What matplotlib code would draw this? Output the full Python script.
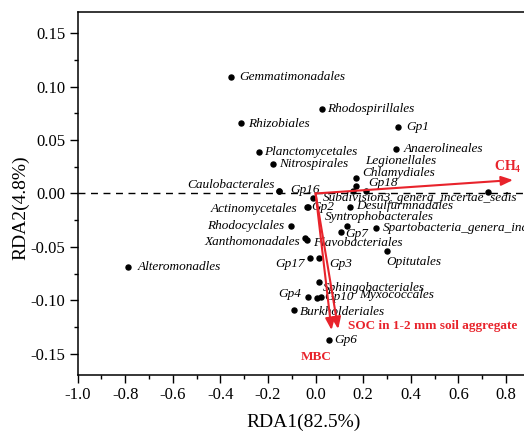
import matplotlib
matplotlib.use("Agg")
import matplotlib.pyplot as plt

plt.rcParams["font.family"] = ["Liberation Serif", "DejaVu Serif"]
plt.rcParams["axes.unicode_minus"] = False
plt.rcParams["mathtext.fontset"] = "custom"
plt.rcParams["mathtext.bf"] = "Liberation Serif:bold"
plt.rcParams["mathtext.rm"] = "Liberation Serif"

# species scores (RDA1, RDA2)
taxa = [
    "Gemmatimonadales", "Rhizobiales", "Planctomycetales", "Nitrospirales",
    "Rhodospirillales", "Gp1", "Anaerolineales", "Legionellales",
    "Chlamydiales", "Gp18", "", "", "Caulobacterales", "Gp16",
    "Subdivision3_genera_incertae_sedis", "Actinomycetales", "Gp2",
    "Desulfurmnadales", "Syntrophobacterales", "Rhodocyclales", "Gp7",
    "Spartobacteria_genera_incertae_sedis", "Xanthomonadales",
    "Flavobacteriales", "Opitutales", "Alteromonadles", "Gp17", "Gp3",
    "Sphingobacteriales", "Gp4", "Gp10", "Myxococcales", "Burkholderiales",
    "Gp6",
]
rda1 = [
    -0.356, -0.314, -0.240, -0.178,
    0.028, 0.347, 0.340, 0.168,
    0.168, 0.213, 0.157, 0.723, -0.153, -0.152,
    -0.013, -0.035, -0.034,
    0.144, 0.133, -0.105, 0.105,
    0.253, -0.046,
    -0.038, 0.301, -0.789, -0.024, 0.015,
    0.015, -0.031, 0.004, 0.021, -0.091,
    0.057,
]
rda2 = [
    0.1088, 0.0663, 0.0389, 0.0274,
    0.0789, 0.0623, 0.0417, 0.0148,
    0.0070, 0.0023, 0.0023, 0.0011, 0.0023, 0.0021,
    -0.0045, -0.0124, -0.0126,
    -0.0129, -0.0304, -0.0307, -0.0363,
    -0.0326, -0.0414,
    -0.0438, -0.0539, -0.0691, -0.0607, -0.0607,
    -0.0826, -0.0972, -0.0982, -0.0967, -0.1091,
    -0.1372,
]

# environmental vectors
env_names = [r"$\mathbf{CH_4}$", "SOC in 1-2 mm soil aggregate", "MBC"]
env_rda1 = [0.830, 0.095, 0.067]
env_rda2 = [0.0126, -0.127, -0.128]

# label placement (pixel offset from point, horizontal alignment)
label_pos = {
    "Gemmatimonadales": (8, 0, "left"), "Rhizobiales": (7, -1, "left"),
    "Planctomycetales": (6, 0, "left"), "Nitrospirales": (6, 0, "left"),
    "Rhodospirillales": (5, 0, "left"), "Gp1": (8, 0, "left"),
    "Anaerolineales": (7, 0, "left"), "Legionellales": (10, 17, "left"),
    "Chlamydiales": (7, 13, "left"), "Gp18": (2, 8, "left"),
    "Caulobacterales": (-5, 6, "right"), "Gp16": (11, 1, "left"),
    "Subdivision3_genera_incertae_sedis": (10, 0, "left"),
    "Actinomycetales": (-10, -2, "right"), "Gp2": (4, 0, "left"),
    "Desulfurmnadales": (6, 1, "left"), "Syntrophobacterales": (-22, 9, "left"),
    "Rhodocyclales": (-6, 0, "right"), "Gp7": (5, -2, "left"),
    "Spartobacteria_genera_incertae_sedis": (7, 0, "left"),
    "Xanthomonadales": (-5, -4, "right"), "Flavobacteriales": (7, -3, "left"),
    "Opitutales": (-1, -11, "left"), "Alteromonadles": (10, 0, "left"),
    "Gp17": (-5, -6, "right"), "Gp3": (10, -6, "left"),
    "Sphingobacteriales": (4, -6, "left"), "Gp4": (-7, 3, "right"),
    "Gp10": (8, 1, "left"), "Myxococcales": (39, 2, "left"),
    "Burkholderiales": (6, -2, "left"), "Gp6": (5, 0, "left"),
}
env_pos = [(-5, 13, "center"), (10, 3, "left"), (-15, -27, "center")]
env_size = [10, 9.5, 9.5]

red = "#e8232b"

fig = plt.figure(figsize=(5.24, 4.34), dpi=100)
ax = fig.add_axes([0.1483, 0.136, 0.908, 0.8364])

ax.axhline(0, color="black", lw=1.0, ls=(0, (5, 4)), zorder=1)

ax.scatter(rda1, rda2, s=13, color="black", zorder=3)
for name, x, y in zip(taxa, rda1, rda2):
    if not name:
        continue
    dx, dy, ha = label_pos[name]
    ax.annotate(name, (x, y), xytext=(dx, dy), textcoords="offset pixels",
                ha=ha, va="center", fontsize=9.5, style="italic", zorder=4)

for name, x, y, (dx, dy, ha), fs in zip(env_names, env_rda1, env_rda2,
                                        env_pos, env_size):
    ax.annotate("", xy=(x, y), xytext=(0, 0),
                arrowprops=dict(arrowstyle="-|>,head_length=0.5,head_width=0.2",
                                color=red, lw=1.5, mutation_scale=14,
                                shrinkA=0, shrinkB=0),
                zorder=5)
    ax.annotate(name, (x, y), xytext=(dx, dy), textcoords="offset pixels",
                ha=ha, va="center", fontsize=fs, fontweight="bold",
                color=red, zorder=5)

ax.set_xlim(-1.0, 1.0)
ax.set_ylim(-0.17, 0.17)
ax.set_xticks([-1.0, -0.8, -0.6, -0.4, -0.2, 0.0, 0.2, 0.4, 0.6, 0.8])
ax.set_xticks([i / 10 - 0.9 for i in range(0, 19, 2)], minor=True)
ax.set_yticks([-0.15, -0.10, -0.05, 0.0, 0.05, 0.10, 0.15])
ax.set_yticks([-0.125, -0.075, -0.025, 0.025, 0.075, 0.125], minor=True)
ax.xaxis.set_major_formatter(matplotlib.ticker.FormatStrFormatter("%.1f"))
ax.yaxis.set_major_formatter(matplotlib.ticker.FormatStrFormatter("%.2f"))
ax.tick_params(which="major", direction="out", length=5.5, width=1.0,
               labelsize=12)
ax.tick_params(which="minor", direction="out", length=3, width=1.0)
for sp in ax.spines.values():
    sp.set_linewidth(1.1)

ax.set_xlabel("RDA1(82.5%)", fontsize=14, labelpad=7, x=0.475)
ax.set_ylabel("RDA2(4.8%)", fontsize=14, labelpad=1, y=0.46)

fig.savefig("out.png", dpi=100)
